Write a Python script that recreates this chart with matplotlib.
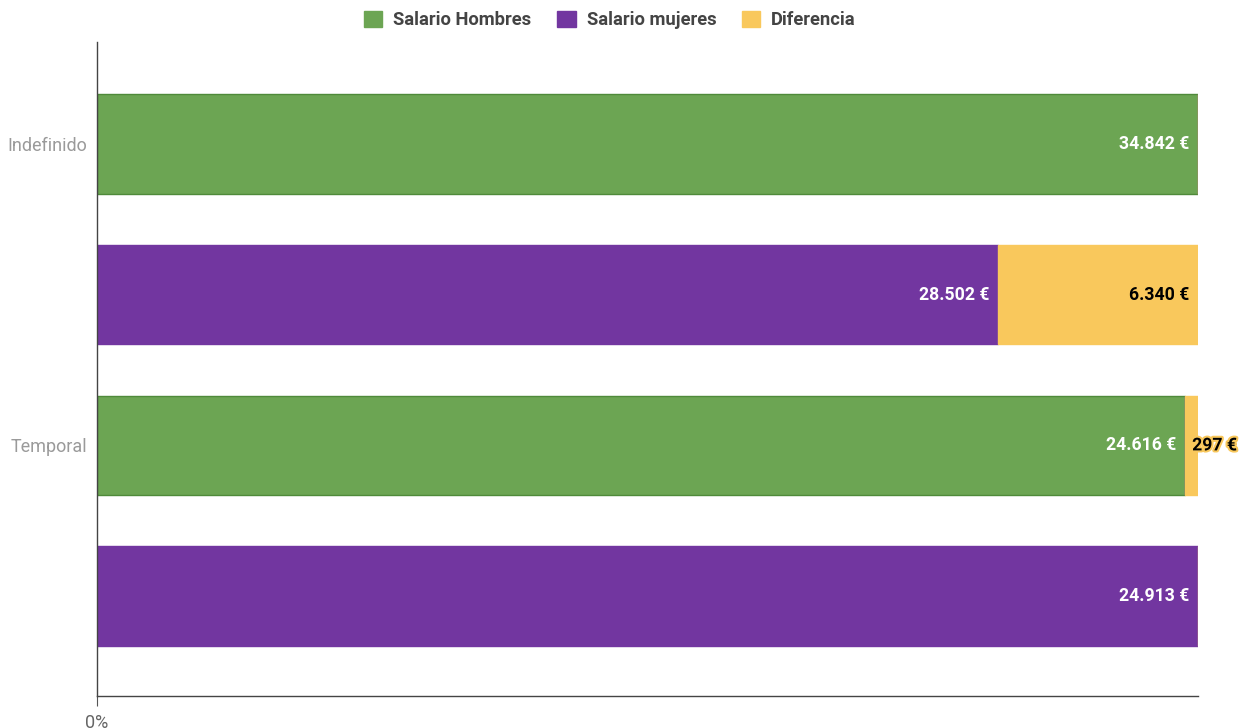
import matplotlib
matplotlib.use("Agg")
import matplotlib.pyplot as plt
import matplotlib.patheffects as pe
from matplotlib.patches import Patch
import numpy as np

plt.rcParams['font.family'] = ['Roboto', 'DejaVu Sans']

row_labels = ['Indefinido', '', 'Temporal', '']
hombres = [34842, 0, 24616, 0]
mujeres = [0, 28502, 0, 24913]
diferencia = [0, 6340, 297, 0]
series_names = ['Salario Hombres', 'Salario mujeres', 'Diferencia']
colors = ['#6ca553', '#7236a0', '#f9c85c']
edges = ['#4f8a3a', '#7236a0', '#f9c85c']
label_colors = ['white', 'white', 'black']

W, H = 1249, 728
fig = plt.figure(figsize=(W / 100, H / 100), dpi=100)
ax = fig.add_axes([97 / W, (H - 696) / H, (1198 - 97) / W, (696 - 42) / H])

series = [np.array(hombres, float), np.array(mujeres, float), np.array(diferencia, float)]
totals = sum(series)
y = np.arange(len(row_labels))
left = np.zeros(len(row_labels))
bar_h = 0.66

def fmt(v):
    return f"{int(v):,}".replace(',', '.') + ' €'

for s, name, c, ec, lc in zip(series, series_names, colors, edges, label_colors):
    frac = s / totals * 100
    ax.barh(y, frac, left=left, height=bar_h, color=c, edgecolor=ec, linewidth=1.0, label=name)
    for i in range(len(y)):
        if s[i] <= 0:
            continue
        end = left[i] + frac[i]
        if frac[i] > 5:
            ax.annotate(fmt(s[i]), xy=(end, y[i]), xytext=(-6, 0), textcoords='offset points',
                        ha='right', va='center', color=lc, fontsize=12.7, fontweight='bold')
        else:
            ax.annotate(fmt(s[i]), xy=(left[i] + frac[i] / 2, y[i]), xytext=(0.5, 0),
                        textcoords='offset points', ha='left', va='center', color='black',
                        fontsize=12.7, fontweight='bold',
                        path_effects=[pe.withStroke(linewidth=3, foreground=c)])
    left = left + frac

ax.set_xlim(0, 100)
ax.set_ylim(len(y) - 1 + 0.662, -0.675)
ax.set_yticks([0, 2])
ax.set_yticklabels([row_labels[0], row_labels[2]], color='#9a9a9a', fontsize=13)
ax.tick_params(axis='y', length=0, pad=7)
ax.set_xticks([0])
ax.set_xticklabels(['0%'], color='#666666', fontsize=13)
ax.tick_params(axis='x', length=7, color='#555555', pad=6)
for side in ['top', 'right']:
    ax.spines[side].set_visible(False)
ax.spines['left'].set_color('#444444')
ax.spines['bottom'].set_color('#444444')
ax.spines['left'].set_linewidth(1.0)
ax.spines['bottom'].set_linewidth(1.0)

handles = [Patch(facecolor=c, edgecolor=c) for c in colors]
leg = fig.legend(handles, series_names, loc='center', bbox_to_anchor=(610 / W, 1 - 20 / H),
                 ncol=3, frameon=False, handlelength=1.0, handleheight=1.0, handletextpad=0.6,
                 columnspacing=1.4, fontsize=13.2)
for t in leg.get_texts():
    t.set_color('#444444')
    t.set_fontweight('bold')

fig.savefig('out.png', dpi=100)
